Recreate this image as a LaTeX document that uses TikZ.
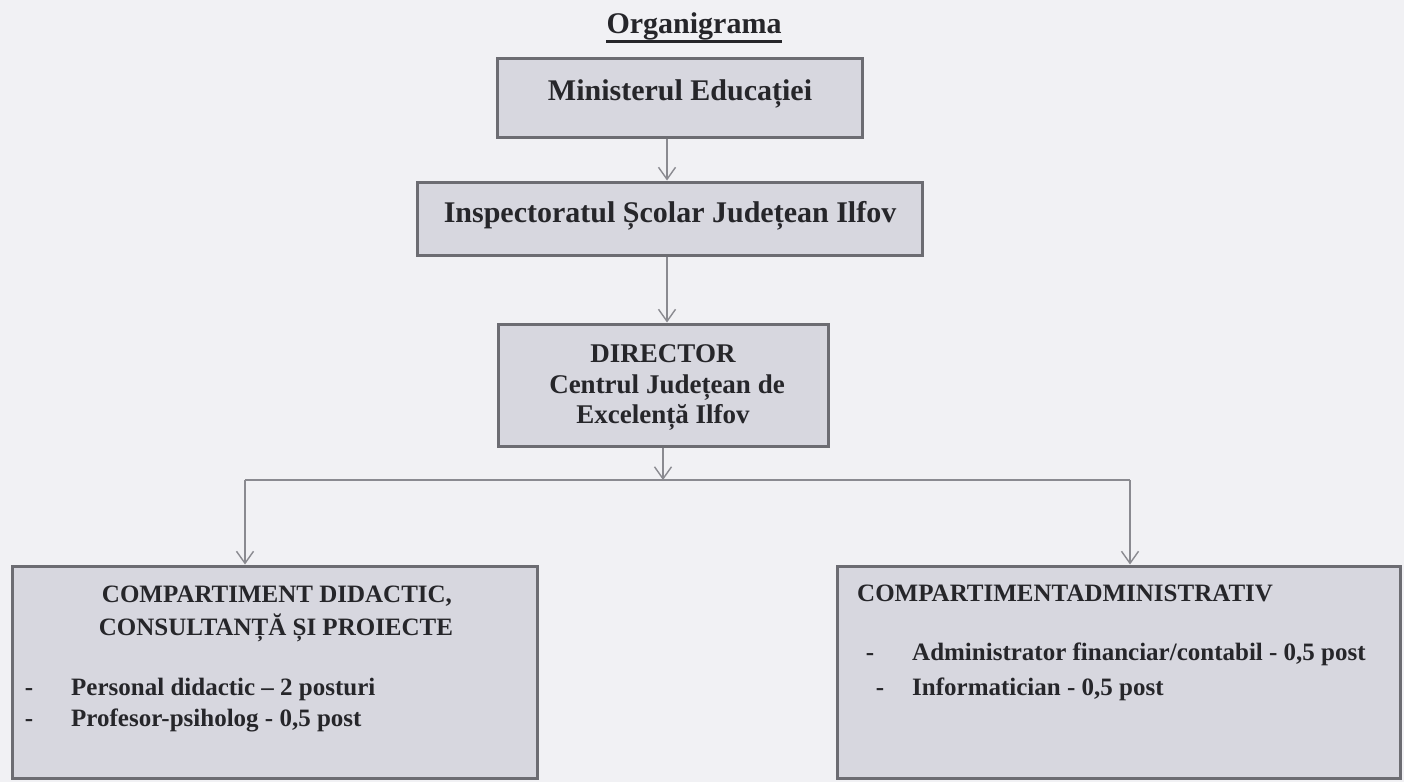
\documentclass[tikz,border=0pt]{standalone}
\usepackage{fontspec}
\setmainfont{Liberation Serif}
\usetikzlibrary{arrows.meta}
\definecolor{bg}{HTML}{F1F1F4}
\definecolor{boxfill}{HTML}{D7D7DF}
\definecolor{boxline}{HTML}{6C6C72}
\definecolor{txt}{HTML}{26262A}
\definecolor{ln}{HTML}{8A8A90}
\begin{document}
\begin{tikzpicture}[x=1pt,y=-1pt,
  box/.style={draw=boxline, fill=boxfill, line width=3pt, rectangle, inner sep=0pt},
  tbig/.style={font=\fontsize{30}{36}\selectfont\bfseries, text=txt, inner sep=0pt},
  tmid/.style={font=\fontsize{27}{32}\selectfont\bfseries, text=txt, inner sep=0pt},
  tsm/.style={font=\fontsize{25}{30}\selectfont\bfseries, text=txt, inner sep=0pt},
  conn/.style={draw=ln, line width=1.4pt},
  arr/.style={conn, -{Straight Barb[length=12pt,width=17pt]}}
]
\fill[bg] (0,0) rectangle (1404,782);
\useasboundingbox (0,0) rectangle (1404,782);

% title
\node[tbig, anchor=base] (title) at (694,33) {Organigrama};
\draw[txt, line width=2.5pt] ([yshift=-1.5pt]title.south west) -- ([yshift=-1.5pt]title.south east);

% boxes
\node[box, minimum width=365pt, minimum height=79pt] (m1) at (679.5,97.5) {};
\node[box, minimum width=505pt, minimum height=73pt] (m2) at (670,218.5) {};
\node[box, minimum width=330pt, minimum height=122pt] (m3) at (663,385) {};
\node[box, minimum width=525pt, minimum height=212pt] (bl) at (274.5,672) {};
\node[box, minimum width=563pt, minimum height=212pt] (br) at (1118.5,672) {};

% texts
\node[tbig, anchor=base] (m1t) at (680,100) {Ministerul Educației};
\node[tbig, anchor=base] (m2t) at (670,222) {Inspectoratul Școlar Județean Ilfov};
\node[tmid, anchor=base] (m3a) at (663,362) {DIRECTOR};
\node[tmid, anchor=base] (m3b) at (667,393) {Centrul Județean de};
\node[tmid, anchor=base] (m3c) at (663,423) {Excelență Ilfov};

\node[tsm, anchor=base] (bla) at (277,602) {COMPARTIMENT DIDACTIC,};
\node[tsm, anchor=base] (blb) at (276,635) {CONSULTANȚĂ ȘI PROIECTE};
\node[tsm, anchor=base] (bld1) at (29,695) {-};
\node[tsm, anchor=base west] (bl1) at (71,695) {Personal didactic – 2 posturi};
\node[tsm, anchor=base] (bld2) at (29,726) {-};
\node[tsm, anchor=base west] (bl2) at (71,726) {Profesor-psiholog - 0,5 post};

\node[tsm, anchor=base west] (bra) at (857,601) {COMPARTIMENTADMINISTRATIV};
\node[tsm, anchor=base] (brd1) at (870,660) {-};
\node[tsm, anchor=base west] (br1) at (912,660) {Administrator financiar/contabil - 0,5 post};
\node[tsm, anchor=base] (brd2) at (880,695) {-};
\node[tsm, anchor=base west] (br2) at (912,695) {Informatician - 0,5 post};

% connectors
\coordinate (c1) at (667,0);
\coordinate (j) at (663,480);
\coordinate (jl) at (245,480);
\coordinate (jr) at (1130,480);
\draw[arr] (m1.south -| c1) -- (m2.north -| c1);
\draw[arr] (m2.south -| c1) -- (m3.north -| c1);
\draw[arr] (m3.south -| j) -- (j);
\draw[conn] (jl) -- (jr);
\draw[arr] (jl) -- (jl |- bl.north);
\draw[arr] (jr) -- (jr |- br.north);
\end{tikzpicture}
\end{document}
